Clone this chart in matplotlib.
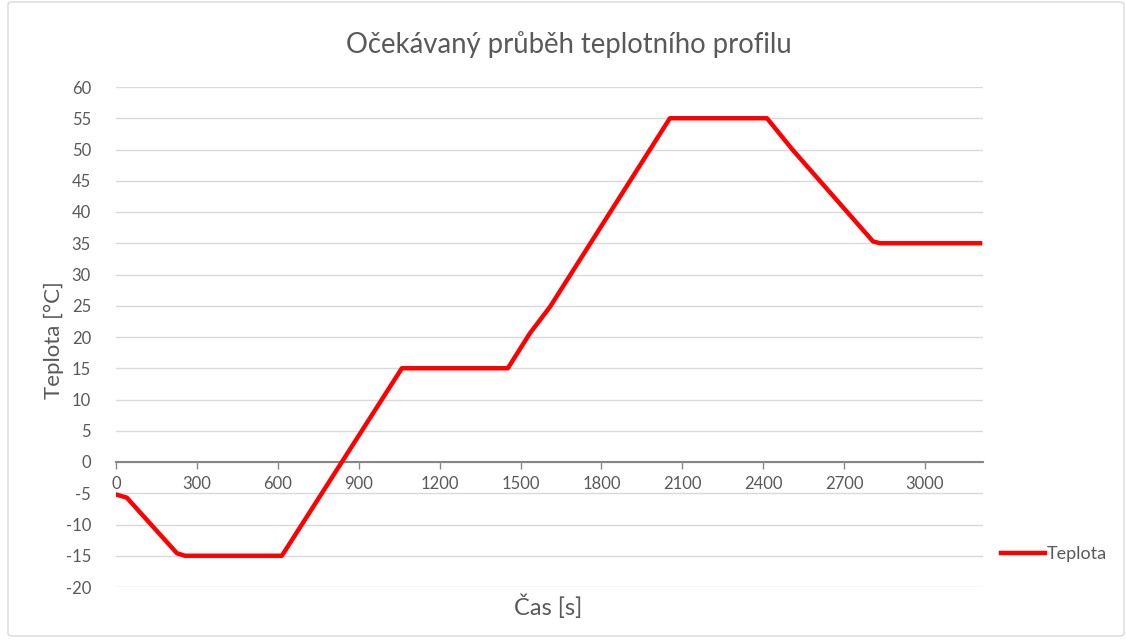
import matplotlib
matplotlib.use("Agg")
import matplotlib.pyplot as plt
from matplotlib.patches import FancyBboxPatch

plt.rcParams["axes.unicode_minus"] = False

# Data (time in s, temperature in °C)
cas = [0, 40, 226, 256, 615, 1060, 1453, 1535, 1609, 2054, 2414, 2510, 2807, 2833, 3204]
teplota = [-5.2, -5.7, -14.6, -15, -15, 15, 15, 20.6, 24.8, 55, 55, 49.9, 35.3, 35, 35]

x_ticks = [0, 300, 600, 900, 1200, 1500, 1800, 2100, 2400, 2700, 3000]
y_ticks = list(range(-20, 65, 5))

title = "Očekávaný průběh teplotního profilu"
xlabel = "Čas [s]"
ylabel = "Teplota [°C]"
series_name = "Teplota"

W, H = 1126, 644
fig = plt.figure(figsize=(W / 100, H / 100), dpi=100)
fig.patch.set_facecolor("white")

# outer chart border
border = FancyBboxPatch((8 / W, 8 / H), (W - 10) / W, (H - 10) / H,
                        boxstyle="round,pad=0,rounding_size=0.004",
                        transform=fig.transFigure, fill=False,
                        edgecolor="#d9d9d9", linewidth=1.0)
fig.patches.append(border)

left, right, top, bottom = 116, 983, 87, 587
ax = fig.add_axes([left / W, 1 - bottom / H, (right - left) / W, (bottom - top) / H])

txt_color = "#595959"
font = "Lato"

ax.plot(cas, teplota, color="#ff0000", linewidth=3.2, solid_joinstyle="round",
        label=series_name, zorder=3)

ax.set_xlim(0, 3215)
ax.set_ylim(-20, 60)
ax.set_yticks(y_ticks)
ax.set_xticks(x_ticks)
ax.grid(axis="y", color="#d9d9d9", linewidth=1.0, zorder=0)
ax.set_axisbelow(True)

for s in ["left", "right", "top"]:
    ax.spines[s].set_visible(False)
ax.spines["bottom"].set_position(("data", 0))
ax.spines["bottom"].set_color("#868686")
ax.spines["bottom"].set_linewidth(1.5)
ax.tick_params(axis="x", direction="out", length=5, width=1, color="#868686",
               pad=5, labelsize=12, labelcolor=txt_color)
ax.tick_params(axis="y", length=0, pad=18, labelsize=12, labelcolor=txt_color)
for lbl in ax.get_xticklabels() + ax.get_yticklabels():
    lbl.set_fontfamily(font)

fig.text((345 + 792) / 2 / W, 1 - 45 / H, title, ha="center", va="center",
         fontsize=19.8, color=txt_color, family=font)
fig.text(548 / W, 1 - 607 / H, xlabel, ha="center", va="center",
         fontsize=17, color=txt_color, family=font)
fig.text(54 / W, 1 - 340 / H, ylabel, ha="center", va="center", rotation=90,
         fontsize=16, color=txt_color, family=font)

leg = fig.legend(loc="center left", bbox_to_anchor=(994 / W, 1 - 554 / H),
                 frameon=False, prop={"family": font, "size": 13},
                 handlelength=2.4, handletextpad=0.1, borderaxespad=0)
for t in leg.get_texts():
    t.set_color(txt_color)

fig.savefig("out.png", dpi=100, facecolor="white")
